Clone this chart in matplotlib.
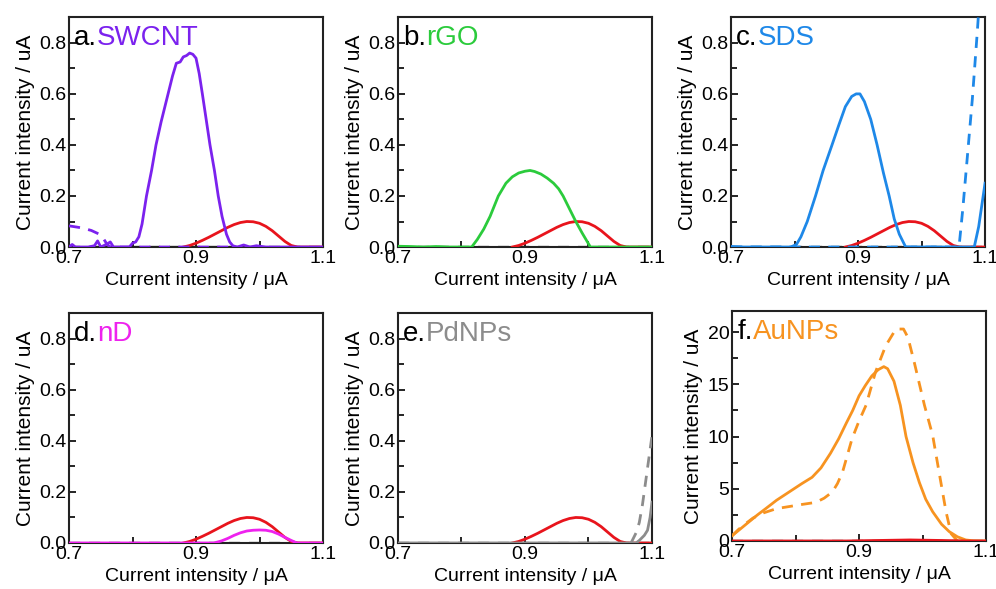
import matplotlib
matplotlib.use("Agg")
import matplotlib.pyplot as plt
from matplotlib.ticker import MultipleLocator

plt.rcParams['font.family'] = ['Liberation Sans', 'DejaVu Sans']

# ---------------- data ----------------
xlabel_text = "Current intensity / \u03bcA"
ylabel_text = "Current intensity / uA"
x_ticks = [0.7, 0.9, 1.1]
x_tick_labels = ["0.7", "0.9", "1.1"]

# reference (red) curve shared in panels a-e
red_x = [0.88, 0.89, 0.90, 0.91, 0.92, 0.93, 0.94, 0.95, 0.96, 0.97, 0.98,
         0.99, 1.00, 1.01, 1.02, 1.03, 1.04, 1.05, 1.06, 1.10]
red_y = [0.0, 0.006, 0.015, 0.026, 0.038, 0.051, 0.064, 0.077, 0.088, 0.096,
         0.100, 0.099, 0.093, 0.081, 0.064, 0.043, 0.022, 0.006, 0.0, 0.0]
red_dash_x = [0.70, 0.88]
red_dash_y = [0.0, 0.0]
base_x = [0.70, 1.10]
base_y = [0.0, 0.0]

# a. SWCNT
swcnt_x = [0.700, 0.705, 0.710, 0.720, 0.730, 0.740, 0.745, 0.750, 0.760, 0.765,
           0.770, 0.780, 0.790, 0.795, 0.800, 0.805, 0.810, 0.815, 0.822, 0.830,
           0.837, 0.845, 0.856, 0.863, 0.869, 0.875, 0.880, 0.885, 0.890, 0.895,
           0.900, 0.905, 0.910, 0.916, 0.922, 0.929, 0.935, 0.941, 0.948, 0.953,
           0.958, 0.965, 0.975, 0.985, 0.995, 1.010, 1.100]
swcnt_y = [0.0, 0.01, 0.0, 0.0, 0.0, 0.005, 0.024, 0.0, 0.012, 0.02,
           0.0, 0.0, 0.0, 0.0, 0.015, 0.02, 0.04, 0.09, 0.2, 0.3,
           0.4, 0.49, 0.6, 0.67, 0.72, 0.725, 0.745, 0.75, 0.76, 0.755,
           0.74, 0.68, 0.6, 0.5, 0.4, 0.3, 0.2, 0.12, 0.05, 0.02,
           0.005, 0.0, 0.008, 0.0, 0.005, 0.0, 0.0]
swcnt_dash_x = [0.700, 0.720, 0.735, 0.748, 0.755, 0.760, 0.765, 0.800, 0.850, 0.900, 0.960]
swcnt_dash_y = [0.083, 0.075, 0.065, 0.050, 0.030, 0.010, 0.0, 0.0, 0.0, 0.0, 0.0]

# b. rGO
rgo_x = [0.70, 0.72, 0.74, 0.76, 0.78, 0.80, 0.816, 0.825, 0.835, 0.845, 0.858,
         0.87, 0.88, 0.89, 0.90, 0.908, 0.915, 0.925, 0.935, 0.945, 0.953, 0.96,
         0.97, 0.98, 0.99, 1.003, 1.02, 1.10]
rgo_y = [0.003, 0.002, 0.0, 0.002, 0.0, 0.0, 0.0, 0.03, 0.07, 0.12, 0.2,
         0.25, 0.275, 0.29, 0.297, 0.3, 0.296, 0.286, 0.27, 0.25, 0.228, 0.2,
         0.15, 0.1, 0.055, 0.0, 0.0, 0.0]

# c. SDS
sds_x = [0.70, 0.72, 0.74, 0.76, 0.78, 0.794, 0.803, 0.81, 0.82, 0.833, 0.845,
         0.859, 0.87, 0.88, 0.89, 0.897, 0.903, 0.91, 0.92, 0.93, 0.94, 0.949,
         0.957, 0.965, 0.975, 0.99, 1.02, 1.05, 1.083, 1.09, 1.10]
sds_y = [0.002, 0.0, 0.0, 0.0, 0.0, 0.0, 0.01, 0.04, 0.1, 0.2, 0.3,
         0.4, 0.48, 0.55, 0.59, 0.6, 0.6, 0.57, 0.5, 0.4, 0.29, 0.2,
         0.11, 0.05, 0.0, 0.0, 0.0, 0.0, 0.0, 0.08, 0.25]
sds_dash_x = [0.70, 0.80, 0.90, 1.00, 1.059, 1.065, 1.072, 1.080, 1.088, 1.092]
sds_dash_y = [0.0, 0.0, 0.0, 0.0, 0.0, 0.15, 0.35, 0.58, 0.85, 1.0]

# d. nD
nd_x = [0.70, 0.80, 0.90, 0.928, 0.94, 0.95, 0.96, 0.97, 0.98, 0.99, 1.00,
        1.01, 1.02, 1.03, 1.04, 1.05, 1.059, 1.10]
nd_y = [0.0, 0.0, 0.0, 0.0, 0.008, 0.018, 0.03, 0.04, 0.047, 0.05, 0.051,
        0.05, 0.045, 0.035, 0.022, 0.01, 0.0, 0.0]

# e. PdNPs
pd_x = [0.70, 0.80, 0.90, 1.00, 1.075, 1.080, 1.088, 1.093, 1.097, 1.100]
pd_y = [0.0, 0.0, 0.0, 0.0, 0.0, 0.01, 0.03, 0.05, 0.10, 0.16]
pd_dash_x = [1.067, 1.075, 1.080, 1.085, 1.090, 1.095, 1.100]
pd_dash_y = [0.0, 0.04, 0.08, 0.15, 0.24, 0.33, 0.42]

# f. AuNPs
au_x = [0.70, 0.72, 0.74, 0.753, 0.77, 0.79, 0.81, 0.826, 0.84, 0.855, 0.868,
        0.88, 0.89, 0.90, 0.91, 0.92, 0.93, 0.939, 0.945, 0.955, 0.965, 0.974,
        0.985, 0.995, 1.005, 1.016, 1.03, 1.042, 1.055, 1.068, 1.08, 1.10]
au_y = [0.5, 1.5, 2.5, 3.1, 3.9, 4.7, 5.5, 6.1, 7.0, 8.4, 9.8,
        11.3, 12.5, 13.9, 14.9, 15.8, 16.4, 16.7, 16.5, 15.3, 13.0, 10.0,
        7.5, 5.6, 4.0, 2.8, 1.6, 0.9, 0.4, 0.1, 0.02, 0.0]
au_dash_x = [0.70, 0.71, 0.72, 0.733, 0.75, 0.77, 0.79, 0.81, 0.832, 0.845,
             0.858, 0.866, 0.874, 0.889, 0.90, 0.911, 0.926, 0.942, 0.958, 0.97,
             0.977, 0.987, 1.003, 1.016, 1.026, 1.037, 1.045, 1.055]
au_dash_y = [0.5, 1.1, 1.6, 2.2, 2.7, 3.1, 3.3, 3.5, 3.7, 4.1,
             4.7, 5.5, 6.6, 9.8, 11.5, 13.0, 16.2, 18.7, 20.3, 20.3,
             19.5, 17.1, 13.0, 10.1, 6.6, 2.8, 0.7, 0.0]
red_f_x = [0.70, 0.80, 0.88, 0.93, 0.98, 1.03, 1.07, 1.10]
red_f_y = [0.0, 0.0, 0.0, 0.05, 0.1, 0.05, 0.0, 0.0]

panel_letters = ["a.", "b.", "c.", "d.", "e.", "f."]
panel_names = ["SWCNT", "rGO", "SDS", "nD", "PdNPs", "AuNPs"]
panel_colors = ["#7B22EE", "#2BCB3C", "#1E88E8", "#EE22EE", "#8C8C8C", "#F79320"]
RED = "#E8141C"

# ---------------- figure ----------------
fig = plt.figure(figsize=(9.96, 5.89), dpi=100)
W = 0.255
H = 0.39
positions = [
    (0.0693, 0.5806), (0.3996, 0.5806), (0.7340, 0.5806),
    (0.0693, 0.0781), (0.3996, 0.0781), (0.7350, 0.0815),
]

solid = [(swcnt_x, swcnt_y), (rgo_x, rgo_y), (sds_x, sds_y),
         (nd_x, nd_y), (pd_x, pd_y), (au_x, au_y)]
dashed = [(swcnt_dash_x, swcnt_dash_y), None, (sds_dash_x, sds_dash_y),
          None, (pd_dash_x, pd_dash_y), (au_dash_x, au_dash_y)]

LW = 2.0
for i, (l, b) in enumerate(positions):
    ax = fig.add_axes([l, b, W, H])
    col = panel_colors[i]
    ax.plot(base_x, base_y, color="black", lw=1.6, ls=(0, (5, 4)), zorder=1)
    if i < 5:
        ax.plot(red_dash_x, red_dash_y, color=RED, lw=LW, ls=(0, (4, 4)), zorder=2)
        ax.plot(red_x, red_y, color=RED, lw=LW, zorder=3)
    if dashed[i] is not None:
        ax.plot(dashed[i][0], dashed[i][1], color=col, lw=LW, ls=(0, (4, 3)), zorder=4)
    ax.plot(solid[i][0], solid[i][1], color=col, lw=LW, zorder=5)
    if i == 5:
        ax.plot(red_f_x, red_f_y, color=RED, lw=LW, zorder=6)

    ax.set_xlim(0.7, 1.1)
    if i == 5:
        ax.set_ylim(0, 22)
        ax.yaxis.set_major_locator(MultipleLocator(5))
        ax.yaxis.set_minor_locator(MultipleLocator(2.5))
    else:
        ax.set_ylim(0, 0.9)
        ax.set_yticks([0.0, 0.2, 0.4, 0.6, 0.8])
        ax.set_yticklabels(["0.0", "0.2", "0.4", "0.6", "0.8"])
        ax.yaxis.set_minor_locator(MultipleLocator(0.1))
    ax.set_xticks(x_ticks)
    ax.set_xticklabels(x_tick_labels)
    ax.xaxis.set_minor_locator(MultipleLocator(0.1))
    ax.tick_params(which="both", direction="in", top=False, right=False,
                   labelsize=14, width=1.2, pad=2)
    ax.tick_params(which="major", length=5)
    ax.tick_params(which="minor", length=4)
    for s in ax.spines.values():
        s.set_linewidth(1.5)
        s.set_color("#222222")
    ax.set_xlabel(xlabel_text, fontsize=14, labelpad=4)
    ax.set_ylabel(ylabel_text, fontsize=15, labelpad=3)

    t1 = ax.text(0.02, 0.965, panel_letters[i], transform=ax.transAxes,
                 fontsize=20, color="black", va="top", ha="left")
    ax.annotate(panel_names[i], xy=(1, 0), xycoords=t1, va="bottom", ha="left",
                fontsize=20, color=col)

fig.savefig("out.png", dpi=100)
